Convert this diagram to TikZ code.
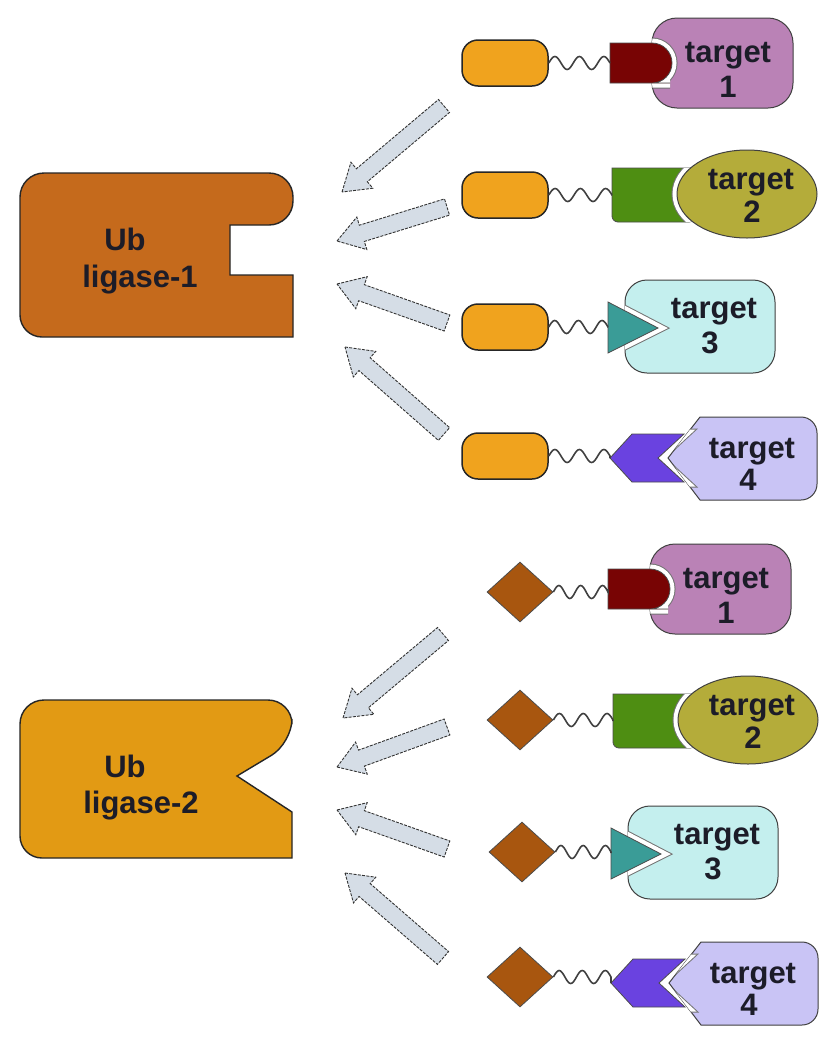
\documentclass[tikz,border=0pt]{standalone}
\usepackage{fontspec}
\setmainfont{Liberation Sans}
\usetikzlibrary{shapes.geometric,calc}
\definecolor{pillc}{HTML}{F0A31E}
\definecolor{diac}{HTML}{A8560F}
\definecolor{dredc}{HTML}{780404}
\definecolor{pinkc}{HTML}{BA82B6}
\definecolor{greenc}{HTML}{4E8E12}
\definecolor{olivec}{HTML}{B4AC3A}
\definecolor{tealc}{HTML}{3A9C97}
\definecolor{cyanc}{HTML}{C4EFEE}
\definecolor{purpc}{HTML}{6A42E0}
\definecolor{lavc}{HTML}{C9C4F5}
\definecolor{ligAc}{HTML}{C56A1C}
\definecolor{ligBc}{HTML}{E29A14}
\definecolor{arrc}{HTML}{D5DDE6}
\definecolor{txtc}{HTML}{1C1C28}
\tikzset{
 pill/.style={draw=black!85, line width=1.5pt, fill=pillc, rounded corners=16pt, minimum width=86pt, minimum height=46pt, inner sep=0pt},
 dia/.style={diamond, draw=black!70, line width=0.8pt, fill=diac, minimum width=66pt, minimum height=60pt, inner sep=0pt},
 linker/.style={draw=black!75, line width=1.6pt, to path={let \p1=(\tikztostart), \p2=(\tikztotarget), \n1={(\x2-\x1)/10} in (\p1) sin ++(\n1,6.5pt) cos ++(\n1,-6.5pt) sin ++(\n1,-6.5pt) cos ++(\n1,6.5pt) sin ++(\n1,6.5pt) cos ++(\n1,-6.5pt) sin ++(\n1,-6.5pt) cos ++(\n1,6.5pt) sin ++(\n1,6.5pt) cos ++(\n1,-6.5pt) -- (\p2)}},
 lbl/.style={font=\fontsize{31}{36}\selectfont\bfseries, text=txtc, inner sep=0pt, anchor=base},
 halo/.style={draw=white, line width=9pt, line join=miter},
 halorim/.style={draw=black!55, line width=11pt, line join=miter},
 tgt/.style={draw=black!75, line width=1pt},
 part/.style={draw=black!70, line width=0.8pt},
 lig/.style={draw=black!85, line width=1.4pt},
 barrow/.style={fill=arrc, draw=black!80, line width=0.9pt, dash pattern=on 3pt off 1.3pt}
}
\newcommand{\pathTa}{[rounded corners=25pt] (652,-45) rectangle (793,45)}
\newcommand{\pathD}{(610,0) -- (610,-20) -- (650,-20) [rounded corners=20pt] -- (672,-20) -- (672,20) -- (650,20) [sharp corners] -- (610,20) -- cycle}
\newcommand{\pathG}{(612,0) [rounded corners=6pt] -- (612,27) -- (695,27) [sharp corners] -- (695,-27) -- (612,-27) [rounded corners=6pt] -- cycle}
\newcommand{\pathE}{(747,-1) ellipse [x radius=70pt, y radius=44pt]}
\newcommand{\pathTc}{[rounded corners=22pt] (625,-47) rectangle (775,46)}
\newcommand{\pathTri}{(608,-25) -- (608,26) -- (658,1) -- cycle}
\newcommand{\pathTd}{(668,0) -- (700,-41) -- (780,-41) [rounded corners=16pt] -- (817,-41) -- (817,42) -- (780,42) [sharp corners] -- (700,42) -- cycle}
\newcommand{\pathP}{(610,0) -- (632,-24) -- (684,-24) -- (658,0) -- (684,24) -- (632,24) -- cycle}
\newcommand{\rowA}[2]{%
\begin{scope}[shift={#1}]
 \draw[tgt, fill=pinkc] \pathTa;
 \begin{scope}\clip \pathTa; \draw[halorim] \pathD; \draw[halo] \pathD; \end{scope}
 \draw[part, fill=dredc] \pathD;
 \coordinate (#2-in) at (610,0);
 \node[lbl] (#2-t) at (728,-1) {target};
 \node[lbl] (#2-n) at (728,34) {1};
\end{scope}}
\newcommand{\rowB}[2]{%
\begin{scope}[shift={#1}]
 \draw[part, fill=greenc] \pathG;
 \begin{scope}\clip \pathG; \draw[halorim] \pathE; \draw[halo] \pathE; \end{scope}
 \draw[tgt, fill=olivec] \pathE;
 \coordinate (#2-in) at (612,0);
 \node[lbl] (#2-t) at (751,-6) {target};
 \node[lbl] (#2-n) at (752,27) {2};
\end{scope}}
\newcommand{\rowC}[2]{%
\begin{scope}[shift={#1}]
 \draw[tgt, fill=cyanc] \pathTc;
 \begin{scope}\clip \pathTc; \draw[halorim] \pathTri; \draw[halo] \pathTri; \end{scope}
 \draw[part, fill=tealc] \pathTri;
 \coordinate (#2-in) at (608,0);
 \node[lbl] (#2-t) at (714,-9) {target};
 \node[lbl] (#2-n) at (710,26) {3};
\end{scope}}
\newcommand{\rowD}[2]{%
\begin{scope}[shift={#1}]
 \draw[tgt, fill=lavc] \pathTd;
 \begin{scope}\clip \pathTd; \draw[halorim] \pathP; \draw[halo] \pathP; \end{scope}
 \draw[part, fill=purpc] \pathP;
 \coordinate (#2-in) at (610,0);
 \node[lbl] (#2-t) at (752,0) {target};
 \node[lbl] (#2-n) at (748,32) {4};
\end{scope}}
\newcommand{\blkarrow}[2]{%
 \coordinate (ba-h) at ($(#2)!26pt!(#1)$);
 \draw[barrow] (#2) -- ($(ba-h)!17pt!-90:(#2)$) -- ($(ba-h)!8.5pt!-90:(#2)$) -- ($(#1)!8.5pt!-90:(#2)$) -- ($(#1)!8.5pt!90:(#2)$) -- ($(ba-h)!8.5pt!90:(#2)$) -- ($(ba-h)!17pt!90:(#2)$) -- cycle;}
\begin{document}
\begin{tikzpicture}[x=1pt,y=-1pt]
\fill[white] (0,0) rectangle (840,1050);
\useasboundingbox (0,0) rectangle (840,1050);
% ligases
\draw[lig, fill=ligAc] (20,255) [rounded corners=24pt] -- (20,173) -- (293,173) -- (293,225) [sharp corners] -- (230,225) -- (230,275) -- (293,275) -- (293,337) [rounded corners=22pt] -- (20,337) -- cycle;
\node[lbl] (l1a) at (125,250) {Ub};
\node[lbl] (l1b) at (140,287) {ligase-1};
\draw[lig, fill=ligBc] (20,780) [rounded corners=24pt] -- (20,700) -- (292,700) -- (292,743) [sharp corners] -- (237,776) -- (292,812) -- (292,858) [rounded corners=22pt] -- (20,858) -- cycle;
\node[lbl] (l2a) at (125,777) {Ub};
\node[lbl] (l2b) at (141,813) {ligase-2};
% rows
\rowA{(0,63)}{ra}
\rowB{(0,195)}{rb}
\rowC{(0,327)}{rc}
\rowD{(0,458)}{rd}
\rowA{(-2,589)}{sa}
\rowB{(1,721)}{sb}
\rowC{(3,853)}{sc}
\rowD{(1,983)}{sd}
% binders
\node[pill] (pa) at (505,63) {};
\node[pill] (pb) at (505,195) {};
\node[pill] (pc) at (505,327) {};
\node[pill] (pd) at (505,456) {};
\node[dia] (da) at (520,592) {};
\node[dia] (db) at (520,720) {};
\node[dia] (dc) at (522,852) {};
\node[dia] (dd) at (520,977) {};
\draw[linker] (pa.east) to (ra-in);
\draw[linker] (pb.east) to (rb-in);
\draw[linker] (pc.east) to (rc-in);
\draw[linker] (pd.east) to (rd-in);
\draw[linker] (da.east) to (sa-in);
\draw[linker] (db.east) to (sb-in);
\draw[linker] (dc.east) to (sc-in);
\draw[linker] (dd.east) to (sd-in);
% arrows
\coordinate (a1s) at (444,106); \coordinate (a1t) at (342,192);
\coordinate (a2s) at (447,207); \coordinate (a2t) at (337,241);
\coordinate (a3s) at (447,323); \coordinate (a3t) at (337,284);
\coordinate (a4s) at (444,434); \coordinate (a4t) at (345,347);
\coordinate (b1s) at (443,634); \coordinate (b1t) at (343,718);
\coordinate (b2s) at (447,727); \coordinate (b2t) at (337,767);
\coordinate (b3s) at (447,849); \coordinate (b3t) at (337,810);
\coordinate (b4s) at (443,958); \coordinate (b4t) at (345,873);
\blkarrow{a1s}{a1t}
\blkarrow{a2s}{a2t}
\blkarrow{a3s}{a3t}
\blkarrow{a4s}{a4t}
\blkarrow{b1s}{b1t}
\blkarrow{b2s}{b2t}
\blkarrow{b3s}{b3t}
\blkarrow{b4s}{b4t}
\end{tikzpicture}
\end{document}
